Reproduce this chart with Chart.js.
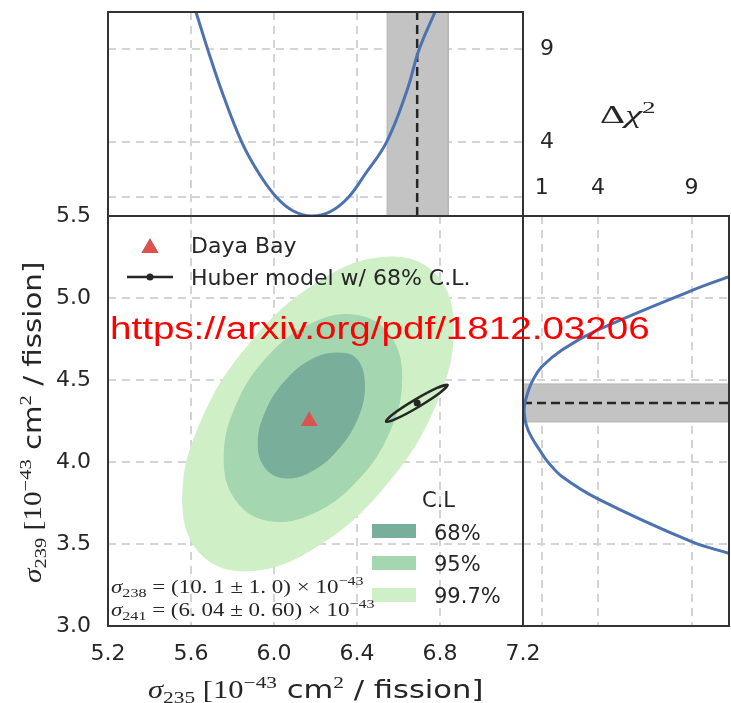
<!DOCTYPE html>
<html>
<head>
<meta charset="utf-8">
<script src="https://cdn.jsdelivr.net/npm/chart.js@4.4.1/dist/chart.umd.min.js"></script>
<style>
  html, body { margin: 0; padding: 0; background: #fff; }
  #wrap { position: relative; width: 731px; height: 703px; overflow: hidden; font-family: 'DejaVu Sans', sans-serif; color: #262626; }
  #wrap canvas { position: absolute; left: 0; top: 0; }
  .lbl { position: absolute; white-space: nowrap; line-height: 1; }
  .lbl .bl { display: inline-block; width: 0; height: 0; vertical-align: baseline; }
  .m { font-family: 'Liberation Serif', 'DejaVu Serif', serif; }
  sub, sup { font-size: 0.7em; position: relative; vertical-align: baseline; line-height: 0; }
  sup { top: -0.6em; }
  sub { top: 0.3em; }
  .url { font-family: 'Liberation Sans', sans-serif; color: #ff0000; }
</style>
</head>
<body>
<div id="wrap">
  <canvas id="topChart" width="731" height="703"></canvas>
  <canvas id="sideChart" width="731" height="703"></canvas>
  <canvas id="mainChart" width="731" height="703"></canvas>
</div>
<script>
const qs = (sel) => document.querySelector(sel);

// Axis ticks
const xTicks = [5.2, 5.6, 6.0, 6.4, 6.8, 7.2];
const xTickLabels = ['5.2', '5.6', '6.0', '6.4', '6.8', '7.2'];
const yTicks = [3.0, 3.5, 4.0, 4.5, 5.0, 5.5];
const yTickLabels = ['3.0', '3.5', '4.0', '4.5', '5.0', '5.5'];
const chiTicks = [1, 4, 9];
const chiLabelsTop = ['1', '4', '9'];
const chiLabelsSide = ['', '4', '9'];
const chiRange = [0, 11];

// Daya Bay best fit
const dayaX = [6.17];
const dayaY = [4.25];

// Huber model (center and 68% C.L. contour)
const huberX = [6.69];
const huberY = [4.36];
const huberEllX = [6.837, 6.786, 6.678, 6.576, 6.540, 6.590, 6.698, 6.800];
const huberEllY = [4.470, 4.452, 4.379, 4.294, 4.246, 4.264, 4.337, 4.422];

// Daya Bay contours (read around each contour)
const cl68X = [6.435, 6.401, 6.307, 6.180, 6.052, 5.959, 5.924, 5.959, 6.052, 6.180, 6.307, 6.401];
const cl68Y = [4.457, 4.263, 4.076, 3.944, 3.903, 3.964, 4.110, 4.304, 4.491, 4.623, 4.664, 4.623];
const cl95X = [6.615, 6.558, 6.402, 6.188, 5.974, 5.818, 5.760, 5.818, 5.974, 6.188, 6.402, 6.558];
const cl95Y = [4.515, 4.191, 3.889, 3.688, 3.643, 3.765, 4.022, 4.345, 4.648, 4.848, 4.893, 4.771];
const cl997X = [6.864, 6.777, 6.538, 6.212, 5.886, 5.647, 5.560, 5.647, 5.886, 6.212, 6.538, 6.777];
const cl997Y = [4.814, 4.343, 3.858, 3.490, 3.337, 3.440, 3.771, 4.243, 4.727, 5.096, 5.249, 5.146];

// Delta chi2 profile over sigma235 (top)
const topX = [5.624, 5.680, 5.748, 5.844, 5.930, 6.013, 6.093, 6.182, 6.270, 6.358, 6.439, 6.543, 6.640, 6.700, 6.776];
const topChi = [11.0, 9.0, 6.74, 4.0, 2.25, 1.0, 0.27, 0.0, 0.23, 1.0, 2.25, 4.0, 6.74, 9.0, 11.0];
const topBand = [6.545, 6.84];

// Delta chi2 profile over sigma239 (right)
const sideY = [3.443, 3.514, 3.775, 3.91, 4.0, 4.053, 4.195, 4.317, 4.429, 4.5, 4.581, 4.685, 4.805, 5.045, 5.13];
const sideChi = [11.0, 9.0, 4.0, 2.1, 1.33, 1.0, 0.27, 0.06, 0.27, 0.53, 1.0, 2.1, 4.0, 9.0, 11.0];
const sideBand = [4.244, 4.476];

// Colors
const ink = '#262626';
const blue = '#4c72b0';
const red = '#d9544f';
const c68 = '#79ae9b';
const c95 = '#a4d6b0';
const c997 = '#cfefc7';
const bandGray = '#c3c3c3';

const pts = (xs, ys) => xs.map((x, i) => ({ x, y: ys[i] }));
// wrap a closed contour so the spline stays smooth where it joins
const loopPts = (xs, ys) => {
  const p = pts(xs, ys);
  return [p[p.length - 1], ...p, p[0], p[1]];
};

const grid = { color: '#d4d4d4', lineWidth: 2, drawTicks: false };
const border = { display: false, dash: [8, 6] };
const tickFont = { family: 'DejaVu Sans', size: 22 };

const setTicks = (values) => (s) => { s.ticks = values.map(v => ({ value: v })); };
const fixW = (w) => (s) => { s.width = w; s.paddingTop = s.paddingBottom = s.paddingLeft = s.paddingRight = 0; };
const fixH = (h) => (s) => { s.height = h; s.paddingTop = s.paddingBottom = s.paddingLeft = s.paddingRight = 0; };

const panelBox = {
  id: 'panelBox',
  afterDraw(chart) {
    const { ctx, chartArea: a } = chart;
    ctx.save();
    ctx.strokeStyle = '#333';
    ctx.lineWidth = 2;
    ctx.strokeRect(a.left, a.top, a.right - a.left, a.bottom - a.top);
    ctx.restore();
  }
};

// legend markers inside the main panel
const legendMarks = {
  id: 'legendMarks',
  afterDatasetsDraw(chart) {
    const ctx = chart.ctx;
    ctx.save();
    ctx.fillStyle = red;
    Chart.helpers.drawPoint(ctx, { pointStyle: 'triangle', radius: 9.8, rotation: 0, borderWidth: 0 }, 150, 248);
    ctx.fill();
    ctx.strokeStyle = ink;
    ctx.lineWidth = 2.5;
    ctx.beginPath();
    ctx.moveTo(127, 277);
    ctx.lineTo(173, 277);
    ctx.stroke();
    ctx.fillStyle = ink;
    ctx.beginPath();
    ctx.arc(150, 277, 3.5, 0, Math.PI * 2);
    ctx.fill();
    [[c68, 524], [c95, 556], [c997, 588]].forEach(([c, y]) => {
      ctx.fillStyle = c;
      ctx.fillRect(372, y, 44, 14);
    });
    ctx.restore();
  }
};

const baseOptions = (padding, scales, extra = {}) => Object.assign({
  responsive: false,
  animation: false,
  events: [],
  layout: { padding },
  plugins: { legend: { display: false }, tooltip: { enabled: false } },
  elements: { point: { radius: 0, hitRadius: 0 } },
  scales
}, extra);

const contour = (xs, ys, color, order) => ({
  data: loopPts(xs, ys), fill: 'shape', backgroundColor: color,
  borderColor: color, borderWidth: 1, pointRadius: 0, tension: 0.4, order
});

new Chart(qs('#mainChart'), {
  type: 'line',
  data: {
    datasets: [
      { type: 'scatter', data: pts(dayaX, dayaY), pointStyle: 'triangle', pointRadius: 9.8,
        backgroundColor: red, borderWidth: 0, order: 0 },
      { type: 'scatter', data: pts(huberX, huberY), pointRadius: 3.5, backgroundColor: ink, borderWidth: 0, order: 1 },
      { data: loopPts(huberEllX, huberEllY), fill: false, borderColor: ink, borderWidth: 2.5,
        pointRadius: 0, tension: 0.4, order: 2 },
      contour(cl68X, cl68Y, c68, 3),
      contour(cl95X, cl95Y, c95, 4),
      contour(cl997X, cl997Y, c997, 5)
    ]
  },
  options: baseOptions({ left: 0, top: 216, right: 208, bottom: 0 }, {
    x: { type: 'linear', min: 5.2, max: 7.2, grid, border,
      ticks: { font: tickFont, color: ink, padding: 15, maxRotation: 0, callback: (v, i) => xTickLabels[i] },
      afterBuildTicks: setTicks(xTicks), afterFit: fixH(77) },
    y: { type: 'linear', min: 3.0, max: 5.5, grid, border,
      ticks: { font: tickFont, color: ink, padding: 17, callback: (v, i) => yTickLabels[i] },
      afterBuildTicks: setTicks(yTicks), afterFit: fixW(108) }
  }),
  plugins: [panelBox, legendMarks]
});

new Chart(qs('#topChart'), {
  type: 'line',
  data: {
    datasets: [
      { data: pts(topX, topChi), borderColor: blue, borderWidth: 3, pointRadius: 0, tension: 0.4, order: 0 },
      { data: pts([huberX[0], huberX[0]], chiRange), borderColor: ink, borderWidth: 2.5, borderDash: [9, 5],
        pointRadius: 0, order: 1 },
      { data: pts([topBand[0], topBand[0], topBand[1], topBand[1]], [chiRange[0], chiRange[1], chiRange[1], chiRange[0]]),
        fill: 'shape', backgroundColor: bandGray, borderColor: '#b4b4b4', borderWidth: 1, pointRadius: 0, order: 2 }
    ]
  },
  options: baseOptions({ left: 108, top: 12, right: 0, bottom: 487 }, {
    x: { type: 'linear', min: 5.2, max: 7.2, grid, border, ticks: { display: false },
      afterBuildTicks: setTicks(xTicks.slice(1, -1)), afterFit: fixH(0) },
    y: { type: 'linear', position: 'right', min: chiRange[0], max: chiRange[1], grid, border,
      ticks: { font: tickFont, color: ink, padding: 17, callback: (v, i) => chiLabelsSide[i] },
      afterBuildTicks: setTicks(chiTicks), afterFit: fixW(208) }
  }),
  plugins: [panelBox]
});

new Chart(qs('#sideChart'), {
  type: 'line',
  data: {
    datasets: [
      { data: pts(sideChi, sideY), borderColor: blue, borderWidth: 3, pointRadius: 0, tension: 0.4, order: 0 },
      { data: pts(chiRange, [huberY[0], huberY[0]]), borderColor: ink, borderWidth: 2.5, borderDash: [9, 5],
        pointRadius: 0, order: 1 },
      { data: pts([chiRange[0], chiRange[1], chiRange[1], chiRange[0]], [sideBand[0], sideBand[0], sideBand[1], sideBand[1]]),
        fill: 'shape', backgroundColor: bandGray, borderColor: '#b4b4b4', borderWidth: 1, pointRadius: 0, order: 2 }
    ]
  },
  options: baseOptions({ left: 523, top: 0, right: 2, bottom: 77 }, {
    x: { type: 'linear', position: 'top', min: chiRange[0], max: chiRange[1], grid, border,
      ticks: { font: tickFont, color: ink, padding: 15, maxRotation: 0, callback: (v, i) => chiLabelsTop[i] },
      afterBuildTicks: setTicks(chiTicks), afterFit: fixH(216) },
    y: { type: 'linear', min: 3.0, max: 5.5, grid, border, ticks: { display: false },
      afterBuildTicks: setTicks(yTicks.slice(1, -1)), afterFit: fixW(0) }
  }),
  plugins: [panelBox]
});

// Text overlays: x, baseline y
const wrap = qs('#wrap');
function placeText(spec) {
  const el = document.createElement('div');
  el.className = 'lbl ' + (spec.cls || '');
  el.style.fontSize = spec.size + 'px';
  el.innerHTML = spec.html + '<span class="bl"></span>';
  wrap.appendChild(el);
  const base = el.querySelector('.bl').offsetTop;
  const w = el.offsetWidth;
  const sx = spec.width ? spec.width / w : 1;
  el.style.transformOrigin = '0 0';
  if (spec.rotate) {
    el.style.left = (spec.x - base) + 'px';
    el.style.top = (spec.y + w * sx / 2) + 'px';
    el.style.transform = 'rotate(-90deg) scaleX(' + sx + ')';
    return;
  }
  let left = spec.x;
  if (spec.align === 'center') left = spec.x - w * sx / 2;
  el.style.left = left + 'px';
  el.style.top = (spec.y - base) + 'px';
  if (sx !== 1) el.style.transform = 'scaleX(' + sx + ')';
}

const sigmaTitle = (n) => '<span class="m"><i>σ</i><sub>' + n + '</sub> [10<sup>−43</sup></span> cm<sup class="m">2</sup> / fission]';

[
  { html: 'Daya Bay', x: 191, y: 253, size: 22 },
  { html: 'Huber model w/ 68% C.L.', x: 191, y: 285, size: 22 },
  { html: 'C.L', x: 422, y: 507, size: 21 },
  { html: '68%', x: 434, y: 540, size: 21 },
  { html: '95%', x: 434, y: 571, size: 21 },
  { html: '99.7%', x: 434, y: 603, size: 21 },
  { html: '<i>σ</i><sub>238</sub> = (10. 1 ± 1. 0) × 10<sup>−43</sup>', x: 111, y: 593, size: 18, cls: 'm', width: 253 },
  { html: '<i>σ</i><sub>241</sub> = (6. 04 ± 0. 60) × 10<sup>−43</sup>', x: 111, y: 616, size: 18, cls: 'm', width: 264 },
  { html: 'Δ<i>χ</i><sup>2</sup>', x: 600, y: 123, size: 25, cls: 'm', width: 56 },
  { html: sigmaTitle('235'), x: 315, y: 698, size: 25, align: 'center', width: 335 },
  { html: sigmaTitle('239'), x: 41, y: 422, size: 25, rotate: true, width: 321 },
  { html: 'https://arxiv.org/pdf/1812.03206', x: 110, y: 339, size: 31, cls: 'url', width: 540 }
].forEach(placeText);
</script>
</body>
</html>
